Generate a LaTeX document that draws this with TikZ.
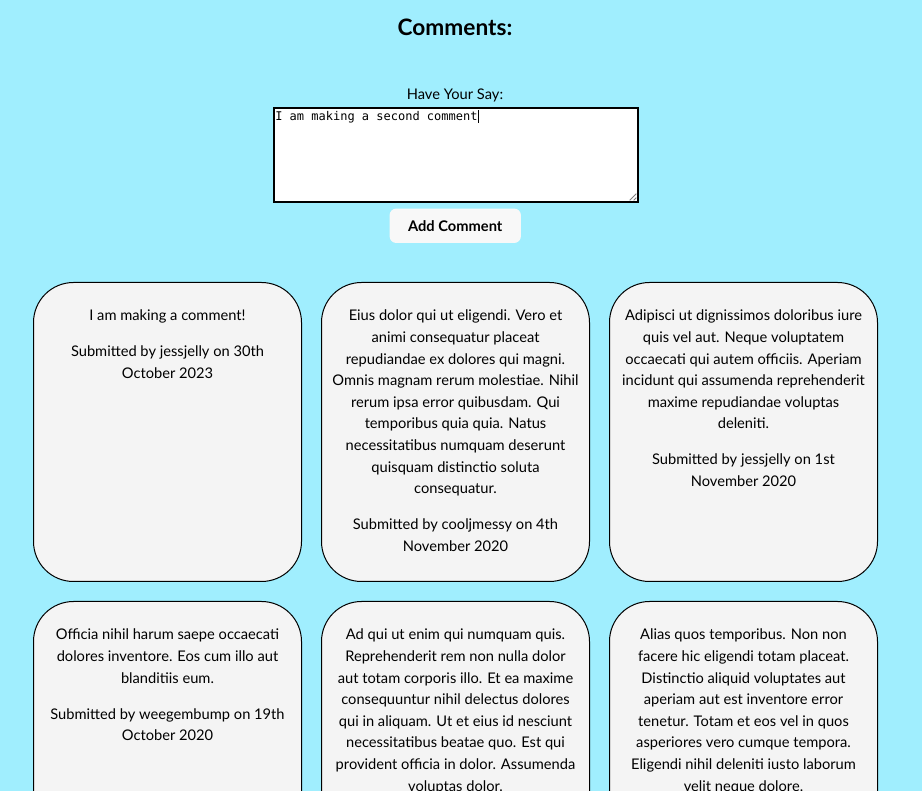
\documentclass[tikz,border=0pt]{standalone}
\usepackage{fontspec}
\setmainfont{Lato}
\setmonofont{DejaVu Sans Mono}
\usepackage{tikz}
\definecolor{pagebg}{HTML}{A0EEFE}
\definecolor{cardbg}{HTML}{F4F4F4}
\definecolor{btnbg}{HTML}{F8F8F8}

\begin{document}
\begin{tikzpicture}[x=0.75pt,y=-0.75pt]
		\tikzset{CardStyle/.style = {draw=black,line width=0.75pt,fill=cardbg,rounded corners=30pt,minimum width=201pt,minimum height=224.25pt,inner sep=0pt,anchor=north west}}
		\tikzset{CardText/.style = {align=center,anchor=north,inner sep=0pt,font=\fontsize{11pt}{16.2pt}\selectfont,execute at begin node=\strut}}
		\clip (0,0) rectangle (922,791);
		\fill[pagebg] (0,0) rectangle (922,791);
		% header
		\node[anchor=base,font=\bfseries\fontsize{17pt}{20pt}\selectfont] (title) at (455,36) {Comments:};
		\node[anchor=base,font=\fontsize{11pt}{16.2pt}\selectfont] (prompt) at (455,100) {Have Your Say:};
		\node[draw=black,line width=1.5pt,fill=white,minimum width=273pt,minimum height=70.5pt,inner sep=0pt,anchor=north west] (entry) at (273,107) {};
		\node[anchor=base west,inner sep=0pt,font=\ttfamily\fontsize{9pt}{11pt}\selectfont] (entrytext) at (275,120.5) {I am making a second comment};
		\draw[line width=0.75pt] ([xshift=0.6pt,yshift=7.5pt]entrytext.base east) -- ([xshift=0.6pt,yshift=-2.25pt]entrytext.base east);
		% resize grip
		\draw[gray,line width=0.6pt] ([xshift=-2pt,yshift=7pt]entry.south east) -- ([xshift=-7pt,yshift=2pt]entry.south east);
		\draw[gray,line width=0.6pt] ([xshift=-2pt,yshift=4pt]entry.south east) -- ([xshift=-4pt,yshift=2pt]entry.south east);
		\node[fill=btnbg,rounded corners=5pt,minimum width=98.5pt,minimum height=25.8pt,inner sep=0pt,anchor=north west,font=\bfseries\fontsize{11pt}{13pt}\selectfont] (addbtn) at (389.3,208.3) {Add Comment};
		% comment cards
		\foreach \n/\x/\y in {1/33/282,2/321/282,3/609/282,4/33/601,5/321/601,6/609/601}
			\node[CardStyle] (card\n) at (\x,\y) {};
		\node[CardText] (msg1) at ([yshift=-20.9pt]card1.north) {I am making a comment!\\[10.8pt]
			Submitted by jessjelly on 30th\\ October 2023};
		\node[CardText] (msg2) at ([yshift=-20.9pt]card2.north) {Eius dolor qui ut eligendi. Vero et\\
			animi consequatur placeat\\ repudiandae ex dolores qui magni.\\
			Omnis magnam rerum molestiae. Nihil\\ rerum ipsa error quibusdam. Qui\\
			temporibus quia quia. Natus\\ necessitatibus numquam deserunt\\
			quisquam distinctio soluta\\ consequatur.\\[10.8pt]
			Submitted by cooljmessy on 4th\\ November 2020};
		\node[CardText] (msg3) at ([yshift=-20.9pt]card3.north) {Adipisci ut dignissimos doloribus iure\\
			quis vel aut. Neque voluptatem\\ occaecati qui autem officiis. Aperiam\\
			incidunt qui assumenda reprehenderit\\ maxime repudiandae voluptas\\ deleniti.\\[10.8pt]
			Submitted by jessjelly on 1st\\ November 2020};
		\node[CardText] (msg4) at ([yshift=-20.9pt]card4.north) {Officia nihil harum saepe occaecati\\
			dolores inventore. Eos cum illo aut\\ blanditiis eum.\\[10.8pt]
			Submitted by weegembump on 19th\\ October 2020};
		\node[CardText] (msg5) at ([yshift=-20.9pt]card5.north) {Ad qui ut enim qui numquam quis.\\
			Reprehenderit rem non nulla dolor\\ aut totam corporis illo. Et ea maxime\\
			consequuntur nihil delectus dolores\\ qui in aliquam. Ut et eius id nesciunt\\
			necessitatibus beatae quo. Est qui\\ provident officia in dolor. Assumenda\\
			voluptas dolor.};
		\node[CardText] (msg6) at ([yshift=-20.9pt]card6.north) {Alias quos temporibus. Non non\\
			facere hic eligendi totam placeat.\\ Distinctio aliquid voluptates aut\\
			aperiam aut est inventore error\\ tenetur. Totam et eos vel in quos\\
			asperiores vero cumque tempora.\\ Eligendi nihil deleniti iusto laborum\\
			velit neque dolore.};
	\end{tikzpicture}
\end{document}
